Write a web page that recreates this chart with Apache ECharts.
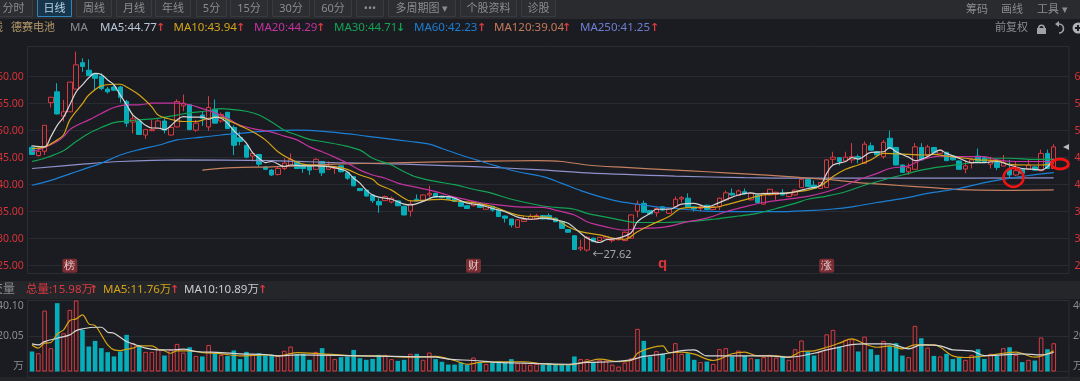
<!DOCTYPE html>
<html><head><meta charset="utf-8">
<style>html,body{margin:0;padding:0;background:#1b1c21;overflow:hidden}#c{width:1080px;height:381px}</style>
<script src="https://cdn.jsdelivr.net/npm/echarts@6/dist/echarts.min.js"></script>
</head><body><div id="c"></div>
<script>
// [open, close, low, high]
const candles=[
[46.9,45.6,45.6,47.3],[45.4,46.2,45.2,46.7],[46.2,51,45.5,51],[55.2,56.2,54.3,56.2],[57.2,53.1,53,58.8],
[52.7,53.5,51.7,55.7],[53.5,59,53.5,59],[57.7,62.2,57.7,64.64],[62.6,61.9,60.9,63.4],[61.2,60.2,60.1,63.2],
[60.6,59.7,57.5,60.7],[60.1,57.8,57.5,60.6],[57.7,57.2,56.9,58.1],[58.1,57.5,57.4,58.4],[58.1,56.2,55.2,58.3],
[55.4,51.4,50.7,55.7],[51.6,52.2,49.5,53.2],[51.7,49.3,49.2,51.8],[49.2,50.2,48.5,50.3],[50,50.2,49.9,52],
[50.4,51.8,50.3,52.1],[51.8,50.1,49.5,52.3],[49.2,50.6,49.1,50.8],[50.7,55.4,50.6,55.8],[54.6,55.1,53.6,56.7],
[54.8,50.2,50.1,54.9],[50.1,51.4,49.8,52],[52.9,52.3,50.9,53.5],[50.7,54.3,50,56.4],[54,51.4,51.3,55.8],
[51.8,53,51.5,53.4],[53.4,50.4,50.3,53.5],[50.6,47.3,45.5,51],[48.7,48,47.3,49.8],[47.3,45.1,44.9,47.4],
[45.3,45.8,44.3,45.9],[45.6,43.8,43.3,45.7],[43.3,42.85,42.7,43.4],[42.7,41.8,41.6,42.9],[41.9,43,41.7,43.3],
[43,44,42.7,44.9],[43.6,44.7,43.5,45.8],[44.3,43,42.9,44.4],[43.7,43,42.2,43.8],[43.5,42.7,41.8,43.6],
[42.85,44.7,42.8,44.9],[44.3,42.2,41.6,44.4],[42.85,43.35,42.7,44.3],[43,43.35,42,43.5],[43.5,42.4,42.3,43.6],
[42.2,41.2,40.9,42.3],[41.5,39.8,39.7,41.6],[39.3,38.9,38.8,39.4],[39,37.9,37.8,39.1],[38.1,37.05,36.6,38.2],
[36.9,36.25,34.8,37.5],[37.05,37.8,37,38],[36.8,37.5,36.55,37.8],[37,36.1,36,37.1],[36,34.4,34.3,36.1],
[35.1,36.4,34.1,37],[37.3,37,36.9,38.2],[37,38.1,36.9,38.2],[38.1,38.4,37.7,39.8],[38.4,37.7,37.6,38.5],
[37.9,37.6,37.5,38],[37.7,37.3,37.2,37.8],[37.5,36.9,36.8,37.6],[36.7,36,35.9,36.8],[36.1,35.6,35.5,36.2],
[36.1,36.9,36,37],[36.4,35.8,35.7,36.5],[35.45,36.1,35.4,36.2],[36,35.3,35,36.1],[35.2,34.1,34,35.3],
[34.2,33.8,33,34.3],[33.65,32.55,32.1,33.7],[32.1,33.5,32,33.6],[33.2,33.6,33.1,34.3],[33.6,34.1,33.5,34.6],
[33.6,34.3,33.5,34.6],[34.3,33.65,33.6,34.4],[34.3,33.65,33.6,34.7],[33.8,33.15,33.1,33.9],[33.15,31.9,31.8,33.2],
[31.7,31.2,31.1,31.8],[30.55,28,27.9,30.6],[28.1,28.4,27.7,29.8],[27.9,30.25,27.62,30.5],[30.1,29.45,29.4,30.2],
[29.65,30.25,29.6,30.3],[30.1,30.4,30,30.6],[29.65,29.9,29.3,30.2],[29.8,30.1,29.7,30.2],[29.65,31.2,29.6,31.3],
[30.1,34.4,30,34.5],[35.1,36.4,33.95,37.05],[36.55,34.9,34.8,37.05],[35.2,34.6,34.5,35.3],[34.8,35.6,34.1,35.8],
[35.9,35.3,35.2,36],[34.7,35.6,34.6,35.7],[35.9,37.3,35.8,37.8],[37.35,37.6,36.7,37.9],[37.5,35.8,35.7,38.4],
[35.9,35.5,35,36],[35.6,35.9,35,36.2],[36.2,35.4,35.3,36.3],[35.4,35.9,35.3,36],[35.9,37.5,35.3,37.6],
[37.2,38.5,37.1,38.9],[38.4,38.1,38,39.3],[38,38.85,37.9,39.1],[38.7,38.3,38.2,39.3],[37.2,38.4,37.1,38.5],
[38.1,36.7,36.6,38.2],[36.4,38.4,36.3,38.5],[38.1,39.15,38,39.2],[38.2,38.6,37.2,38.7],[38.5,38.1,38,39.2],
[37.8,38.5,37.7,38.6],[38.1,39,38,39.1],[39.45,41,39.4,41.1],[41,39.65,39.6,41.1],[39.9,39.3,39.2,40.8],
[39.3,40.4,39.2,40.5],[39.5,44.6,39.4,44.7],[44.7,45.1,43.6,46.1],[45,44.3,43.6,45.1],[44.4,45.1,44.3,46.1],
[44.6,45.2,44,47.7],[45.2,44.9,43.95,45.6],[43.95,47.5,43.9,48],[47.2,46.4,46.3,47.8],[46.1,45.5,45.4,46.2],
[45.2,47.85,44.8,48.3],[48.6,46.7,46.6,50],[46.9,43.65,43.6,47],[43.65,42.3,42.2,43.7],[42.4,43.15,41.8,43.95],
[42.85,47,42.8,47.7],[46.9,44.6,44.5,47.7],[45.4,47,45.3,47.4],[46.9,45.9,45.8,47],[45.8,46.4,45.7,46.5],
[46,44.45,44.4,46.1],[45.3,44.6,44.5,45.4],[44.4,42.85,42.8,44.5],[42.9,43.5,42.1,44.4],[44,44.6,43,44.9],
[45.3,44.3,44.2,46.7],[45,44.1,44,45.1],[43.8,44.3,43,45.2],[44.1,43.2,42.7,44.2],[43.45,44.1,43.4,45.5],
[42.85,41.8,41.2,44.6],[41.8,42.6,41.6,44.3],[42.85,42.1,42,42.9],[42.85,43.65,42.8,44.6],[43.3,42.7,42.6,43.4],
[42.6,45.8,42.5,46.5],[45.8,43,42.9,46.5],[43,47,42.9,47.5]];
const closeIsUp=candles.map(c=>c[1]>=c[0]);
const categories=candles.map((c,i)=>String(i)).concat(['','']);
// moving averages at selected sessions: [session, price]
const ma5=[[0,47.2],[2,47],[3,48.9],[4,51],[5,52.5],[6,54.8],[7,57.2],[8,58.5],[9,59.8],[10,60.6],[11,60.4],[12,59.4],[13,58.5],[14,56.6],[15,54.8],[16,52.9],[17,52],[18,51],[19,50.5],[20,50.5],[21,50.2],[22,50.9],[23,52],[24,52.6],[25,52.5],[27,52.5],[28,52.1],[29,52.5],[30,52.3],[31,51.4],[32,50],[33,48.9],[34,47.7],[35,45.9],[36,44.9],[37,44.1],[38,44.3],[40,43.35],[41,43.65],[43,43.5],[45,43.5],[47,43.35],[49,42.85],[50,42.4],[51,41.2],[52,40.3],[53,39],[54,38.1],[55,37.7],[57,37.3],[59,36.4],[60,36.25],[62,36.9],[64,37.8],[66,37.8],[67,37.5],[69,36.6],[71,36.25],[73,35.6],[75,35],[77,34],[79,33.6],[81,33.8],[83,33.5],[85,32.85],[87,31],[88,30.1],[90,29.3],[91,29.8],[93,30.1],[95,31.1],[96,33.15],[98,34.7],[99,35.45],[101,35.45],[103,36.4],[105,36.55],[107,35.9],[108,36.2],[110,37.2],[112,38.1],[114,38.5],[115,38.3],[117,38.4],[119,38.4],[121,38.7],[123,39.3],[125,39.9],[126,42.1],[127,43.65],[129,44.3],[130,45],[131,44.75],[133,46],[135,46.1],[136,46.85],[137,46.1],[139,45.1],[140,44.45],[142,45.2],[144,46.4],[145,45.8],[147,44.9],[149,44.1],[151,44.1],[153,44.3],[155,43.65],[157,43],[159,42.85],[160,42.7],[161,43.3],[162,44.77]];
const ma10=[[0,46.7],[2,47],[4,48.3],[5,49.2],[6,52],[8,55],[9,56.6],[11,58.3],[13,58.6],[14,58.6],[15,58.1],[17,56.6],[19,54.4],[20,52.9],[22,52.1],[24,51.7],[26,51.7],[28,52.3],[30,52.5],[31,52],[33,50.9],[35,49.8],[37,48.3],[39,46.1],[41,44.7],[43,43.8],[46,43.5],[48,43.35],[50,42.85],[52,41.8],[54,41],[55,40],[57,39],[59,37.5],[60,37],[63,37.2],[65,37.3],[67,37],[70,36.7],[72,36.25],[74,35.6],[76,34.7],[78,34.2],[80,34.1],[83,33.65],[85,32.2],[87,31.3],[90,30.7],[92,30.1],[94,29.9],[96,31.3],[98,32.5],[101,34.1],[103,35.6],[106,35.8],[108,35.8],[110,36.25],[113,37.2],[116,38.1],[119,38.4],[123,39],[125,39.75],[127,41.5],[129,42.85],[131,43.65],[133,44.6],[135,45.8],[137,45.7],[139,45.6],[141,45.5],[143,45.6],[145,45.3],[148,44.9],[150,44.6],[153,44.45],[155,43.75],[158,43.65],[160,43.65],[162,43.94]];
const ma20=[[0,46.1],[2,46.9],[4,48],[5,48.9],[6,50.2],[7,50.9],[9,52],[11,53.2],[13,54.3],[15,54.8],[17,54.8],[19,55.1],[21,55.1],[23,55.1],[25,54.8],[27,54.1],[29,53.3],[31,52.3],[33,51],[35,50.4],[38,49.75],[40,49],[42,48.3],[44,47],[46,46.1],[48,45.1],[50,44],[52,42.7],[54,41.8],[56,41.2],[58,40.3],[61,39.5],[63,39],[65,38.4],[67,37.7],[69,37.2],[71,36.7],[74,36.25],[77,35.9],[81,35.8],[83,35.3],[86,34.4],[88,33.15],[91,32.2],[94,31.6],[96,31.9],[100,32.1],[104,33.15],[107,33.8],[110,35],[113,35.9],[116,36.7],[119,37.2],[123,37.85],[126,38.7],[129,39.9],[131,40.9],[134,42.1],[136,43],[139,43.5],[141,44.6],[144,45.3],[147,45.2],[151,45.2],[153,44.6],[156,44.3],[159,44.3],[162,44.29]];
const ma30=[[0,44.3],[2,44.9],[5,46.3],[7,48],[9,49.5],[11,50.6],[13,51.5],[15,51.8],[17,52],[20,52.3],[23,52.9],[25,53.3],[28,53.7],[30,54.1],[32,53.9],[34,53.6],[36,52.9],[38,51.6],[40,50.1],[42,49.2],[44,48.4],[46,48],[49,47.35],[52,46.4],[54,44.9],[57,43.65],[59,42.4],[61,41.4],[64,40.6],[67,40],[70,39.15],[73,38.4],[76,37.3],[81,36.05],[83,35.8],[86,35.45],[88,34.7],[91,34],[94,33.3],[96,33],[100,33],[104,33.15],[108,33.6],[112,34.2],[115,34.7],[118,35.6],[121,36.55],[123,37.3],[126,37.9],[129,38.7],[132,39.9],[136,41.2],[139,42.1],[141,42.7],[144,43.3],[147,43.75],[150,44.3],[152,44.9],[155,44.9],[159,44.7],[162,44.71]];
const ma60=[[0,39.9],[3,40.8],[6,42],[8,42.8],[11,44],[14,45.5],[17,46.5],[20,47.3],[23,48.3],[27,48.8],[30,49.2],[33,49.5],[38,50],[42,50.1],[47,49.8],[51,49.3],[55,48.7],[60,48],[63,47.5],[65,46.7],[68,45.5],[71,44.4],[74,43.35],[77,42.4],[81,41.5],[84,40.25],[87,38.9],[90,37.8],[93,36.9],[96,36.4],[99,35.9],[102,35.6],[107,35.1],[112,35],[118,35],[123,35.2],[127,35.5],[130,35.9],[134,36.7],[139,37.65],[142,38.4],[147,39.3],[151,40.4],[155,41.2],[158,41.7],[162,42.23]];
const ma120=[[27,42.7],[32,43.15],[38,43.3],[48,43.8],[59,44.1],[70,44.3],[80,44.45],[84,44.3],[88,43.65],[94,43.2],[102,42.7],[107,42.4],[113,42],[120,41.5],[123,41.2],[127,40.9],[131,40.4],[137,39.9],[142,39.5],[147,39.1],[154,38.95],[162,39.04]];
const ma250=[[0,43],[8,43.8],[14,44.3],[23,44.6],[38,44.45],[48,44.1],[59,43.8],[70,43.35],[80,42.8],[88,42.2],[102,41.6],[113,41.3],[123,41.2],[140,41.2],[162,41.25]];
const volume=[11.3,10.3,34.4,13.2,38.6,21.6,34.8,40.1,23.5,14.1,
17.3,13.2,10.9,8.5,11.3,20.7,16,15,11.1,11.1,
12.6,9,12.2,15.6,10.7,13.7,8.8,8.5,15,10.3,
9.4,8.8,11.9,7,11.1,9.4,10.3,9.4,9.4,8.8,
11.7,14.1,9.8,10,6.6,11.1,13.2,9.6,7,8.1,
8.5,12.2,7.5,6.6,7.1,9.4,9.4,7,6,6.6,
10,10,6.6,10.7,7,5.5,3.9,3.9,5.1,3.9,
7.9,5.1,4.3,5.1,5.6,5.1,7,4.7,4.7,3.8,
4.3,3.9,4.7,3.8,3.9,3.8,8.5,7,7,5.1,
6.6,6.2,3.9,2.8,5.1,7.5,24.1,17.3,8.5,11.5,
10,7.5,16,10,10.3,6.6,5.3,5.6,4.3,12.6,
13.2,8.5,11.8,8.8,7.5,7,8.1,9.4,7.9,8.8,
6.6,12.6,17.5,11.3,9,11.3,21,23.5,14.1,17.9,
18.2,11.3,19.7,12.6,9.4,17.3,14.5,16,9,8.1,
25.8,18.8,13.5,8.8,8.5,10,7,8.1,6.6,9.4,
12.6,7.1,10,8.8,13.2,13.7,9.4,5.3,6.6,6.2,
19.2,12.6,15.98];
const volMa5=[[0,15],[1,13.2],[2,16],[3,16.4],[4,21.2],[5,23.5],[6,28.8],[7,29.7],[8,32],[9,26.9],[10,25.9],[11,20.7],[12,15],[13,12.2],[14,11.8],[15,12.6],[16,13.2],[17,14.5],[19,14.5],[20,12.6],[21,11.7],[22,10.3],[23,11.7],[25,11.7],[27,10.7],[30,10],[33,8.8],[37,9.4],[39,8.8],[42,10.7],[46,10],[52,8.8],[55,8.8],[60,8.1],[64,8.5],[67,6.2],[69,4.1],[71,5.1],[74,5.5],[78,5.5],[81,4.3],[85,3.8],[88,5.6],[90,7],[93,5.6],[95,6.2],[96,10.3],[98,13.2],[100,14.5],[101,10.7],[103,10.9],[105,9.8],[108,6.2],[109,7],[111,10],[113,10.9],[115,8.8],[118,8.8],[120,8.1],[122,11.3],[124,11.7],[126,13.7],[128,16],[130,18.4],[132,15.6],[134,13.7],[136,14.5],[138,12.8],[140,15],[143,15],[146,8.8],[148,7.9],[151,8.8],[154,10.3],[156,10.9],[159,8.1],[162,11.76]];
const volMa10=[[0,15.6],[1,15],[2,16.9],[4,18.8],[6,20.7],[7,23.1],[8,24.1],[10,25],[11,25],[12,22.2],[13,21.6],[15,16.9],[16,15.6],[18,13.2],[20,12.2],[22,12.2],[24,12.6],[26,11.3],[30,10.7],[33,10],[37,9.6],[39,8.8],[42,9.4],[52,8.8],[57,8.5],[64,8.1],[66,7],[70,6.2],[74,5.1],[78,4.7],[85,4.1],[88,5.1],[92,5.5],[95,6.6],[97,8.5],[100,9.8],[103,11.8],[105,12.2],[107,8.8],[113,8.8],[117,8.8],[120,8.1],[124,10.3],[126,12.2],[128,13.7],[130,15.2],[132,15.6],[136,15.6],[139,12.8],[141,15],[144,14.5],[146,12.2],[149,11.7],[151,9],[154,9.4],[157,10],[160,9.4],[162,10.89]];
const priceTicks={min:25,max:60,interval:5};
const volTicks={min:0,max:40.1,interval:20.05};

const UP='#d83a40',DOWN='#07adb9',BG='#1b1c21',GRID='#2a2b30',AXISRED='#d8343a';
const FONT='"Noto Sans","Noto Sans CJK SC",sans-serif';
const toolbar=[['分时',-6,39],['日线',37,35,1],['周线',76,36],['月线',116,36],['年线',155,36],['5分',196,31],['15分',230,38],['30分',272,38],['60分',314,38],['•••',356,28],['多周期图 ▾',388,68],['个股资料',460,57],['诊股',521,35]];
const maLegend=[['MA5:44.77',100,'#b9c6d6','↑',UP,156],['MA10:43.94',173.5,'#d4a417','↑',UP,236],['MA20:44.29',254,'#c4339e','↑',UP,316],['MA30:44.71',334,'#12a354','↓','#12a354',396],['MA60:42.23',414,'#1b7fd4','↑',UP,477],['MA120:39.04',494,'#c6795a','↑',UP,562],['MA250:41.25',580,'#6d7fd2','↑',UP,650]];
const volLegend=[['总量:15.98万',26,UP,89],['MA5:11.76万',103,'#d4a417',170],['MA10:10.89万',184,'#c8ccd0',258]];

const g=[];
const txt=(t,x,y,fill,size,align)=>({type:'text',silent:true,z:20,style:{text:t,x,y,fill,font:(size||12)+'px '+FONT,textAlign:align||'left',textVerticalAlign:'middle'}});
const rect=(x,y,w,h,fill,stroke,z)=>({type:'rect',silent:true,z:z||0,shape:{x,y,width:w,height:h},style:{fill:fill,stroke:stroke||null,lineWidth:1}});
g.push(rect(0,0,1080,19,'#2a2b2f'));
g.push(rect(0,19,1080,19,BG));
g.push(rect(0,281,1080,18,'#25262a'));
g.push(rect(0,377,1080,4,'#232428'));
g.push(rect(27.5,46.5,1041.5,227,null,'#2c2d32',1));
g.push(rect(27.5,300.5,1041.5,77,null,'#2c2d32',1));
toolbar.forEach(b=>{
 const sel=b[3];
 g.push(rect(b[1]+.5,-0.5,b[2]-1,17,sel?'#17354b':'#2d2e32',sel?'#2f84bd':'#3a3b40',5));
 g.push(txt(b[0],b[1]+b[2]/2,9,sel?'#b9d6ea':'#8b8c90',11,'center'));
});
[['筹码',966],['画线',1001],['工具 ▾',1037]].forEach(a=>g.push(txt(a[0],a[1],10,'#8b8c90',11)));
g.push(txt('线',-8,28,'#b59a6c',11));
g.push(txt('德赛电池',11,28,'#b59a6c',11));
g.push(txt('MA',70,28,'#8b8c90',11.5));
maLegend.forEach(m=>{
 g.push(txt(m[0],m[1],28,m[2],11.5));
 g.push({type:'text',silent:true,z:20,style:{text:m[3],x:m[5],y:28,fill:m[4],font:'bold 11px "DejaVu Sans"',textAlign:'left',textVerticalAlign:'middle'}});
});
g.push(txt('前复权',995,28,'#8b8c90',11));
// toolbar icons
g.push(rect(1037,28,9,6,'#a0a1a4'));
g.push({type:'arc',silent:true,z:5,shape:{cx:1041.5,cy:28,r:2.8,startAngle:Math.PI,endAngle:0},style:{stroke:'#a0a1a4',fill:null,lineWidth:1.5}});
g.push({type:'arc',silent:true,z:5,shape:{cx:1059,cy:28.5,r:4.5,startAngle:-Math.PI/2,endAngle:Math.PI/2},style:{stroke:'#a0a1a4',fill:null,lineWidth:1.6}});
g.push({type:'polygon',silent:true,z:5,shape:{points:[[1059,21],[1059,27],[1055,24]]},style:{fill:'#a0a1a4'}});
g.push({type:'circle',silent:true,z:5,shape:{cx:1078,cy:28,r:5.5},style:{fill:'#b0b1b4'}});
g.push(rect(1077,25,2,6,BG,null,6));g.push(rect(1075,27,6,2,BG,null,6));
// volume header
g.push({type:'text',silent:true,z:20,style:{text:'成交量',x:15,y:290,fill:'#8b8c90',font:'12px '+FONT,textAlign:'right',textVerticalAlign:'middle'}});
volLegend.forEach(m=>{
 g.push(txt(m[0],m[1],290,m[2],11.5));
 g.push({type:'text',silent:true,z:20,style:{text:'↑',x:m[3],y:290,fill:UP,font:'bold 11px "DejaVu Sans"',textVerticalAlign:'middle'}});
});
// hand-drawn annotations and last-price marker
g.push({type:'ellipse',silent:true,z:30,shape:{cx:1013.5,cy:177.5,rx:10,ry:9.5},style:{fill:null,stroke:'#f01414',lineWidth:2.5}});
g.push({type:'ellipse',silent:true,z:30,shape:{cx:1060,cy:164,rx:8.5,ry:5},style:{fill:null,stroke:'#f01414',lineWidth:3}});
g.push({type:'polygon',silent:true,z:30,shape:{points:[[1063,147],[1069,144],[1069,150]]},style:{fill:'#b8b9bc'}});

const line=(name,data,color,grid,w)=>({name,type:'line',data,xAxisIndex:grid,yAxisIndex:grid*2,smooth:0.35,showSymbol:false,symbol:'none',clip:false,z:5,lineStyle:{color,width:w||1.2},itemStyle:{color},animation:false,silent:true});
const yAxis=(grid,pos,ticks,fmt,color,margin,extra)=>Object.assign({type:'value',gridIndex:grid,position:pos,min:ticks.min,max:ticks.max,interval:ticks.interval,scale:false,
  axisLine:{show:false},axisTick:{show:false},splitLine:{show:pos==='left',lineStyle:{color:GRID,width:1}},
  axisLabel:Object.assign({color,fontSize:10.5,fontFamily:FONT,margin,align:pos==='left'?'right':'left',formatter:fmt},extra||{})},{});
const fmtP=v=>v.toFixed(2);
const fmtV=v=>v===0?'万':v.toFixed(2);
const volAlign={verticalAlignMinLabel:'bottom',verticalAlignMaxLabel:'top'};
const badge=(i,t)=>({coord:[i,25],label:{formatter:t,color:'#e8c6c6',fontSize:11,backgroundColor:'#7a2d33',padding:[2,2,1,2],borderRadius:2}});
const option={
 animation:false,backgroundColor:BG,
 graphic:g,
 grid:[{left:28.85,top:76.7,width:1040.65,height:189,outerBoundsMode:'none',containLabel:false},{left:28.85,top:300.5,width:1040.65,height:71,outerBoundsMode:'none',containLabel:false}],
 xAxis:[0,1].map(i=>({type:'category',gridIndex:i,data:categories,axisLine:{show:false},axisTick:{show:false},axisLabel:{show:false},splitLine:{show:false}})),
 yAxis:[yAxis(0,'left',priceTicks,fmtP,AXISRED,5),yAxis(0,'right',priceTicks,fmtP,AXISRED,5),
        yAxis(1,'left',volTicks,fmtV,'#8b8c90',5,volAlign),yAxis(1,'right',volTicks,fmtV,'#8b8c90',3.5,volAlign)],
 series:[
  {type:'candlestick',data:candles,xAxisIndex:0,yAxisIndex:0,barWidth:5,clip:false,z:3,silent:true,
   itemStyle:{color:BG,color0:DOWN,borderColor:UP,borderColor0:DOWN,borderWidth:1},
   markPoint:{symbol:'circle',symbolSize:1,silent:true,itemStyle:{color:'transparent'},
    label:{show:true,position:'inside'},
    data:[
     {coord:[7.2,64.64],label:{formatter:'←64.64',position:'right',color:'#a6a7aa',fontSize:11,fontFamily:FONT}},
     {coord:[88.2,27.0],label:{formatter:'←27.62',position:'right',color:'#a6a7aa',fontSize:11,fontFamily:FONT}},
     badge(6,'榜'),badge(70,'财'),badge(126,'涨'),
     {coord:[100,25.4],label:{formatter:'q',color:'#d8343a',fontSize:15,fontWeight:'bold'}}
    ]}},
  line('MA250',ma250,'#8f90cc',0),line('MA120',ma120,'#c47f5e',0),line('MA60',ma60,'#1b7fd4',0),line('MA30',ma30,'#12a354',0),
  line('MA20',ma20,'#c4339e',0),line('MA10',ma10,'#d4a417',0),line('MA5',ma5,'#d6d6d6',0),
  {type:'bar',data:volume.map((v,i)=>({value:v,itemStyle:closeIsUp[i]?{color:BG,borderColor:UP,borderWidth:1}:{color:DOWN,borderColor:DOWN,borderWidth:0}})),xAxisIndex:1,yAxisIndex:2,barWidth:4.6,z:3,silent:true},
  line('VOL MA5',volMa5,'#d4a417',1),line('VOL MA10',volMa10,'#d6d6d6',1)
 ]
};
const chart=echarts.init(document.getElementById('c'),null,{renderer:'canvas',width:1080,height:381});
chart.setOption(option);
</script></body></html>
